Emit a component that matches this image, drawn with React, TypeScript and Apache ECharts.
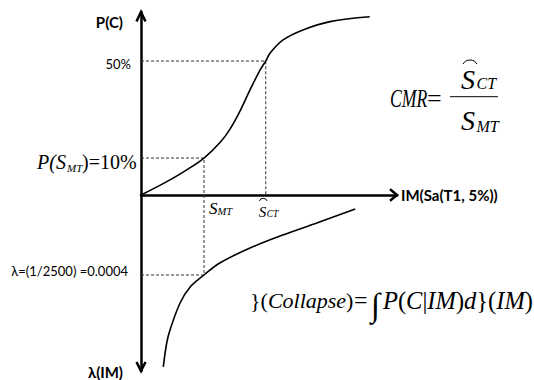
import React, { useEffect, useRef } from "react";
import * as echarts from "echarts";

// ---- Data (schematic values) ----
// Upper panel: fragility curve, IM vs probability of collapse P(C)
const fragilityIM = [0, 0.41, 0.72, 1.0, 1.254, 1.413, 1.571, 1.73, 1.889, 1.98, 2.05, 2.25, 2.57, 3.0, 3.63];
const fragilityP = [0, 0.05, 0.093, 0.138, 0.196, 0.246, 0.313, 0.392, 0.466, 0.5, 0.53, 0.578, 0.616, 0.647, 0.665];

// Lower panel: hazard curve, IM vs mean annual rate of exceedance λ(IM) (axis points down)
const hazardIM = [0.354, 0.408, 0.46, 0.62, 0.78, 1.0, 1.25, 1.73, 2.25, 2.79, 3.4];
const hazardLambda = [0.000859, 0.00074, 0.000675, 0.00054, 0.00046, 0.0004, 0.00034, 0.000265, 0.0002, 0.00014, 0.00007];

// Key points
const S_MT = 1.0; // MCE intensity
const S_CT = 1.98; // median collapse capacity
const P_AT_SMT = 0.138; // point labelled 10% on the schematic
const P_MEDIAN = 0.5; // point labelled 50%
const LAMBDA_MCE = 0.0004; // 1/2500

// Axis ranges
const IM_MAX = 4.063;
const P_MAX = 0.683;
const LAMBDA_MAX = 0.00088;

// ---- Layout ----
const AX_X = 141;
const GRID_TOP = 12;
const AX_Y = 195;
const GRID_BOTTOM = 371;
const AX_RIGHT = 397;

const SERIF = "Liberation Serif";
const SANS = "Lato";

function zip(a: number[], b: number[]) {
  return a.map((v, i) => [v, b[i]]);
}

function txt(text: string, x: number, y: number, size: number, o: any = {}) {
  return {
    type: "text",
    x,
    y,
    scaleX: o.sx ?? 1,
    scaleY: o.sy ?? 1,
    z: 20,
    style: {
      text,
      fontSize: size,
      fontFamily: o.family ?? SERIF,
      fontStyle: o.italic ? "italic" : "normal",
      fontWeight: o.bold ? "bold" : "normal",
      fill: "#000",
      align: o.align ?? "left",
      verticalAlign: "middle",
      rich: o.rich,
    },
  };
}

function hat(cx: number, cy: number, r: number, half: number) {
  return {
    type: "arc",
    z: 20,
    shape: {
      cx,
      cy,
      r,
      startAngle: Math.PI * 1.5 - half,
      endAngle: Math.PI * 1.5 + half,
      clockwise: true,
    },
    style: { stroke: "#000", fill: "none", lineWidth: 1 },
  };
}

function buildOption() {
  const dashed = { color: "#333", width: 1, type: [3, 2] };
  const axisCommon = {
    axisTick: { show: false },
    axisLabel: { show: false },
    splitLine: { show: false },
  };
  return {
    animation: false,
    backgroundColor: "#fff",
    grid: [
      { left: AX_X, top: GRID_TOP, width: AX_RIGHT - AX_X, height: AX_Y - GRID_TOP },
      { left: AX_X, top: AX_Y, width: AX_RIGHT - AX_X, height: GRID_BOTTOM - AX_Y },
    ],
    xAxis: [
      {
        type: "value",
        gridIndex: 0,
        min: 0,
        max: IM_MAX,
        position: "bottom",
        axisLine: { show: true, onZero: false, lineStyle: { color: "#000", width: 2.5 } },
        ...axisCommon,
      },
      { type: "value", gridIndex: 1, min: 0, max: IM_MAX, show: false },
    ],
    yAxis: [
      {
        type: "value",
        gridIndex: 0,
        min: 0,
        max: P_MAX,
        axisLine: { show: true, onZero: false, lineStyle: { color: "#000", width: 2.5 } },
        ...axisCommon,
      },
      {
        type: "value",
        gridIndex: 1,
        min: 0,
        max: LAMBDA_MAX,
        inverse: true,
        axisLine: { show: true, onZero: false, lineStyle: { color: "#000", width: 2.5 } },
        ...axisCommon,
      },
    ],
    series: [
      {
        type: "line",
        xAxisIndex: 0,
        yAxisIndex: 0,
        data: [[0, P_MEDIAN], [S_CT, P_MEDIAN], [S_CT, 0]],
        showSymbol: false,
        lineStyle: dashed,
        z: 2,
      },
      {
        type: "line",
        xAxisIndex: 0,
        yAxisIndex: 0,
        data: [[0, P_AT_SMT], [S_MT, P_AT_SMT], [S_MT, 0]],
        showSymbol: false,
        lineStyle: dashed,
        z: 2,
      },
      {
        type: "line",
        xAxisIndex: 1,
        yAxisIndex: 1,
        data: [[S_MT, 0], [S_MT, LAMBDA_MCE], [0, LAMBDA_MCE]],
        showSymbol: false,
        lineStyle: dashed,
        z: 2,
      },
      {
        type: "line",
        xAxisIndex: 0,
        yAxisIndex: 0,
        data: zip(fragilityIM, fragilityP),
        smooth: 0.35,
        showSymbol: false,
        lineStyle: { color: "#000", width: 1.6 },
        z: 3,
      },
      {
        type: "line",
        xAxisIndex: 1,
        yAxisIndex: 1,
        data: zip(hazardIM, hazardLambda),
        smooth: 0.35,
        showSymbol: false,
        lineStyle: { color: "#000", width: 1.6 },
        z: 3,
      },
    ],
  };
}

function buildGraphics(chart: any) {
  const up = (pt: number[]) => chart.convertToPixel({ gridIndex: 0 }, pt);
  const lo = (pt: number[]) => chart.convertToPixel({ gridIndex: 1 }, pt);
  const y50 = up([0, P_MEDIAN])[1];
  const [xSmt, ySmt] = up([S_MT, P_AT_SMT]);
  const xSct = up([S_CT, 0])[0];
  const yLam = lo([0, LAMBDA_MCE])[1];

  const arrow = (points: number[][]) => ({
    type: "polyline",
    z: 20,
    shape: { points },
    style: { stroke: "#000", fill: "none", lineWidth: 2.5 },
  });

  const italicRich = (size: number) => ({
    i: { fontStyle: "italic", fontSize: size, fontFamily: SERIF, fill: "#000" },
  });

  return [
    // axis arrow heads
    arrow([[AX_X - 4.5, GRID_TOP + 9.5], [AX_X, GRID_TOP], [AX_X + 4.5, GRID_TOP + 9.5]]),
    arrow([[AX_X - 4.5, GRID_BOTTOM - 9], [AX_X, GRID_BOTTOM], [AX_X + 4.5, GRID_BOTTOM - 9]]),
    arrow([[AX_RIGHT - 7, AX_Y - 5.7], [AX_RIGHT, AX_Y], [AX_RIGHT - 7, AX_Y + 5.7]]),

    // axis titles
    txt("P(C)", AX_X - 18, GRID_TOP + 10, 15, { family: SANS, bold: true, align: "right" }),
    txt("λ(IM)", AX_X - 18, GRID_BOTTOM + 0.5, 15, { family: SANS, bold: true, align: "right" }),
    txt("IM(Sa(T1, 5%))", AX_RIGHT + 4, AX_Y, 15, { family: SANS, bold: true }),

    // reference labels
    txt("50%", AX_X - 10, y50 + 2.7, 13, { family: SANS, align: "right" }),
    txt("λ=(1/2500) =0.0004", AX_X - 13, yLam - 4.5, 13, { family: SANS, align: "right" }),

    txt("P(S", 37, ySmt + 4, 20, { italic: true }),
    txt("MT", 67, ySmt + 10, 11, { italic: true }),
    txt(")=10%", 82, ySmt + 4, 20),

    txt("S", xSmt + 5, AX_Y + 13, 17, { italic: true }),
    txt("MT", xSmt + 13.5, AX_Y + 16.5, 10.5, { italic: true }),

    txt("S", xSct - 7, AX_Y + 17, 15, { italic: true }),
    txt("CT", xSct + 1, AX_Y + 18.5, 9.5, { italic: true }),
    hat(xSct - 2.5, AX_Y + 7.5, 4.2, 1.2),

    // CMR formula
    txt("CMR", 390, 98.5, 26, { italic: true, sx: 0.68 }),
    txt("=", 427, 98.5, 26),
    txt("S", 461, 79.5, 28, { italic: true }),
    txt("CT", 476.5, 83, 16, { italic: true }),
    hat(470, 68.1, 8.1, 1.05),
    {
      type: "line",
      z: 20,
      shape: { x1: 450, y1: 96.7, x2: 498, y2: 96.7 },
      style: { stroke: "#000", lineWidth: 1 },
    },
    txt("S", 461, 120, 28, { italic: true }),
    txt("MT", 476.5, 126.5, 16, { italic: true }),

    // collapse-rate formula
    txt("}({i|Collapse})", 250, 300, 22, { rich: italicRich(22) }),
    txt("=", 354, 300, 24),
    txt("∫", 371, 304.5, 33),
    txt("{i|P}({i|C}|{i|IM}){i|d}}({i|IM})", 383, 300, 24.5, { rich: italicRich(24.5) }),
  ];
}

export default function App() {
  const ref = useRef<HTMLDivElement>(null);
  useEffect(() => {
    document.body.style.margin = "0";
    const el = ref.current;
    if (!el) return;
    const chart = echarts.init(el, null, { renderer: "svg" });
    chart.setOption(buildOption());
    chart.setOption({ graphic: { elements: buildGraphics(chart) } });
    return () => chart.dispose();
  }, []);
  return <div ref={ref} style={{ width: 534, height: 380 }} />;
}
